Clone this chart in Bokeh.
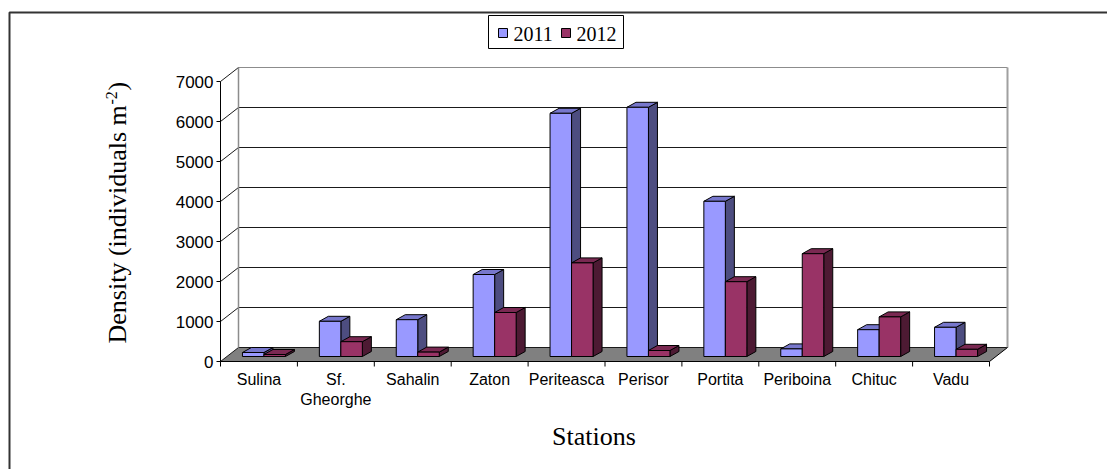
import numpy as np
from bokeh.plotting import figure
from bokeh.models import Range1d
from bokeh.core.properties import value
from bokeh.embed import file_html
from bokeh.resources import INLINE

# ---------------- data ----------------
categories = ["Sulina", "Sf.\nGheorghe", "Sahalin", "Zaton", "Periteasca",
              "Perisor", "Portita", "Periboina", "Chituc", "Vadu"]
series_names = ["2011", "2012"]
density_2011 = [100, 880, 920, 2050, 6080, 6230, 3880, 190, 670, 730]
density_2012 = [50, 370, 110, 1100, 2340, 150, 1870, 2570, 990, 180]
y_ticks = [0, 1000, 2000, 3000, 4000, 5000, 6000, 7000]
y_title = "Density (individuals m"
y_title_sup = "-2"
x_title = "Stations"

# ---------------- layout ----------------
W, H = 1107, 469
AX_LEFT_PX = 220.0          # front-left corner of the floor
CAT_PX = 76.9               # pixel width of one category
BASE_PX = 361.0             # pixel row of value 0 (front)
UNITS_PER_PX = 25.0         # value units per vertical pixel


def X(px):
    return (px - AX_LEFT_PX) / CAT_PX


def V(py):
    return (BASE_PX - py) * UNITS_PER_PX


# 3-D offsets in data units
floor_dx, floor_dv = 18 / CAT_PX, 14 * UNITS_PER_PX
bar_fx, bar_fv = 5 / CAT_PX, 5 * UNITS_PER_PX
bar_dx, bar_dv = 9 / CAT_PX, 5 * UNITS_PER_PX
bar_w = 21.5 / CAT_PX
ymax = y_ticks[-1]
ncat = len(categories)

front_cols = ["#9999FF", "#993366"]
top_cols = ["#7777CC", "#7A2952"]
side_cols = ["#4D4D80", "#4D1A33"]

p = figure(width=W, height=H, output_backend="svg", toolbar_location=None,
           x_range=Range1d(X(0), X(W)), y_range=Range1d(V(H), V(0)),
           x_axis_location=None, y_axis_location=None, min_border=0,
           background_fill_color="white", border_fill_color="white")
p.outline_line_color = None
p.grid.visible = False

# outer chart border
p.quad(left=X(9), right=X(W + 30), top=V(12), bottom=V(H + 30),
       fill_color=None, line_color="#333333", line_width=2)

# floor
p.patch([0, ncat, ncat + floor_dx, floor_dx], [0, 0, floor_dv, floor_dv],
        fill_color="#808080", line_color=None)

# back wall grid lines and side wall connectors
for t in y_ticks:
    col = "#8C8C8C" if t == ymax else "#1A1A1A"
    p.line([floor_dx, ncat + floor_dx], [t + floor_dv, t + floor_dv],
           line_color=col, line_width=1)
    p.line([0, floor_dx], [t, t + floor_dv], line_color="#1A1A1A", line_width=1)
# back wall edges
p.line([floor_dx, floor_dx], [floor_dv, ymax + floor_dv], line_color="#8C8C8C", line_width=1.5)
p.line([ncat + floor_dx, ncat + floor_dx], [floor_dv, ymax + floor_dv],
       line_color="#A0A0A0", line_width=2)
# floor right edge
p.line([ncat, ncat + floor_dx], [0, floor_dv], line_color="black", line_width=1)

# value axis
p.line([0, 0], [0, ymax], line_color="black", line_width=1)
tick_len = 4 / CAT_PX
for t in y_ticks:
    p.line([-tick_len, 0], [t, t], line_color="black", line_width=1)
p.text(x=[X(213)] * len(y_ticks), y=y_ticks, text=[str(t) for t in y_ticks],
       text_align="right", text_baseline="middle",
       text_font=value("Liberation Sans"), text_font_size="17px", text_color="black")

# category axis
p.line([0, ncat], [0, 0], line_color="black", line_width=1)
for i in range(ncat + 1):
    p.line([i, i], [0, V(366)], line_color="black", line_width=1)
for i, c in enumerate(categories):
    for k, line in enumerate(c.split("\n")):
        p.text(x=[i + 0.5], y=[V(379 + 20 * k)], text=[line],
               text_align="center", text_baseline="middle",
               text_font=value("Liberation Sans"), text_font_size="16px",
               text_color="black")

# bars (3-D)
xs, ys, fills = [], [], []
for i in range(ncat):
    for s, vals in enumerate([density_2011, density_2012]):
        v = vals[i]
        x0 = i + 0.5 - bar_w + s * bar_w + bar_fx
        x1 = x0 + bar_w
        b = bar_fv
        t = v + bar_fv
        # side
        xs.append([x1, x1 + bar_dx, x1 + bar_dx, x1])
        ys.append([b, b + bar_dv, t + bar_dv, t])
        fills.append(side_cols[s])
        # top
        xs.append([x0, x1, x1 + bar_dx, x0 + bar_dx])
        ys.append([t, t, t + bar_dv, t + bar_dv])
        fills.append(top_cols[s])
        # front
        xs.append([x0, x1, x1, x0])
        ys.append([b, b, t, t])
        fills.append(front_cols[s])
p.patches(xs, ys, fill_color=fills, line_color="black", line_width=1)

# axis titles
p.text(x=[X(117)], y=[V(343)], text=[y_title], angle=np.pi / 2,
       text_align="left", text_baseline="middle",
       text_font=value("Liberation Serif"), text_font_size="26px", text_color="black")
p.text(x=[X(111)], y=[V(104)], text=[y_title_sup], angle=np.pi / 2,
       text_align="left", text_baseline="middle",
       text_font=value("Liberation Serif"), text_font_size="16px", text_color="black")
p.text(x=[X(117)], y=[V(90)], text=[")"], angle=np.pi / 2,
       text_align="left", text_baseline="middle",
       text_font=value("Liberation Serif"), text_font_size="26px", text_color="black")
p.text(x=[X(593.5)], y=[V(436)], text=[x_title],
       text_align="center", text_baseline="middle",
       text_font=value("Liberation Serif"), text_font_size="26px", text_color="black")

# legend
p.quad(left=X(488), right=X(623), top=V(15), bottom=V(48),
       fill_color="white", line_color="black", line_width=1)
leg_sq_x = [498, 561]
leg_tx_x = [513, 576]
for s, name in enumerate(series_names):
    p.quad(left=X(leg_sq_x[s]), right=X(leg_sq_x[s] + 9), top=V(28), bottom=V(37),
           fill_color=front_cols[s], line_color="black", line_width=1)
    p.text(x=[X(leg_tx_x[s])], y=[V(33)], text=[name],
           text_align="left", text_baseline="middle",
           text_font=value("Liberation Serif"), text_font_size="20px", text_color="black")

open("out.html", "w").write(file_html(p, INLINE))
